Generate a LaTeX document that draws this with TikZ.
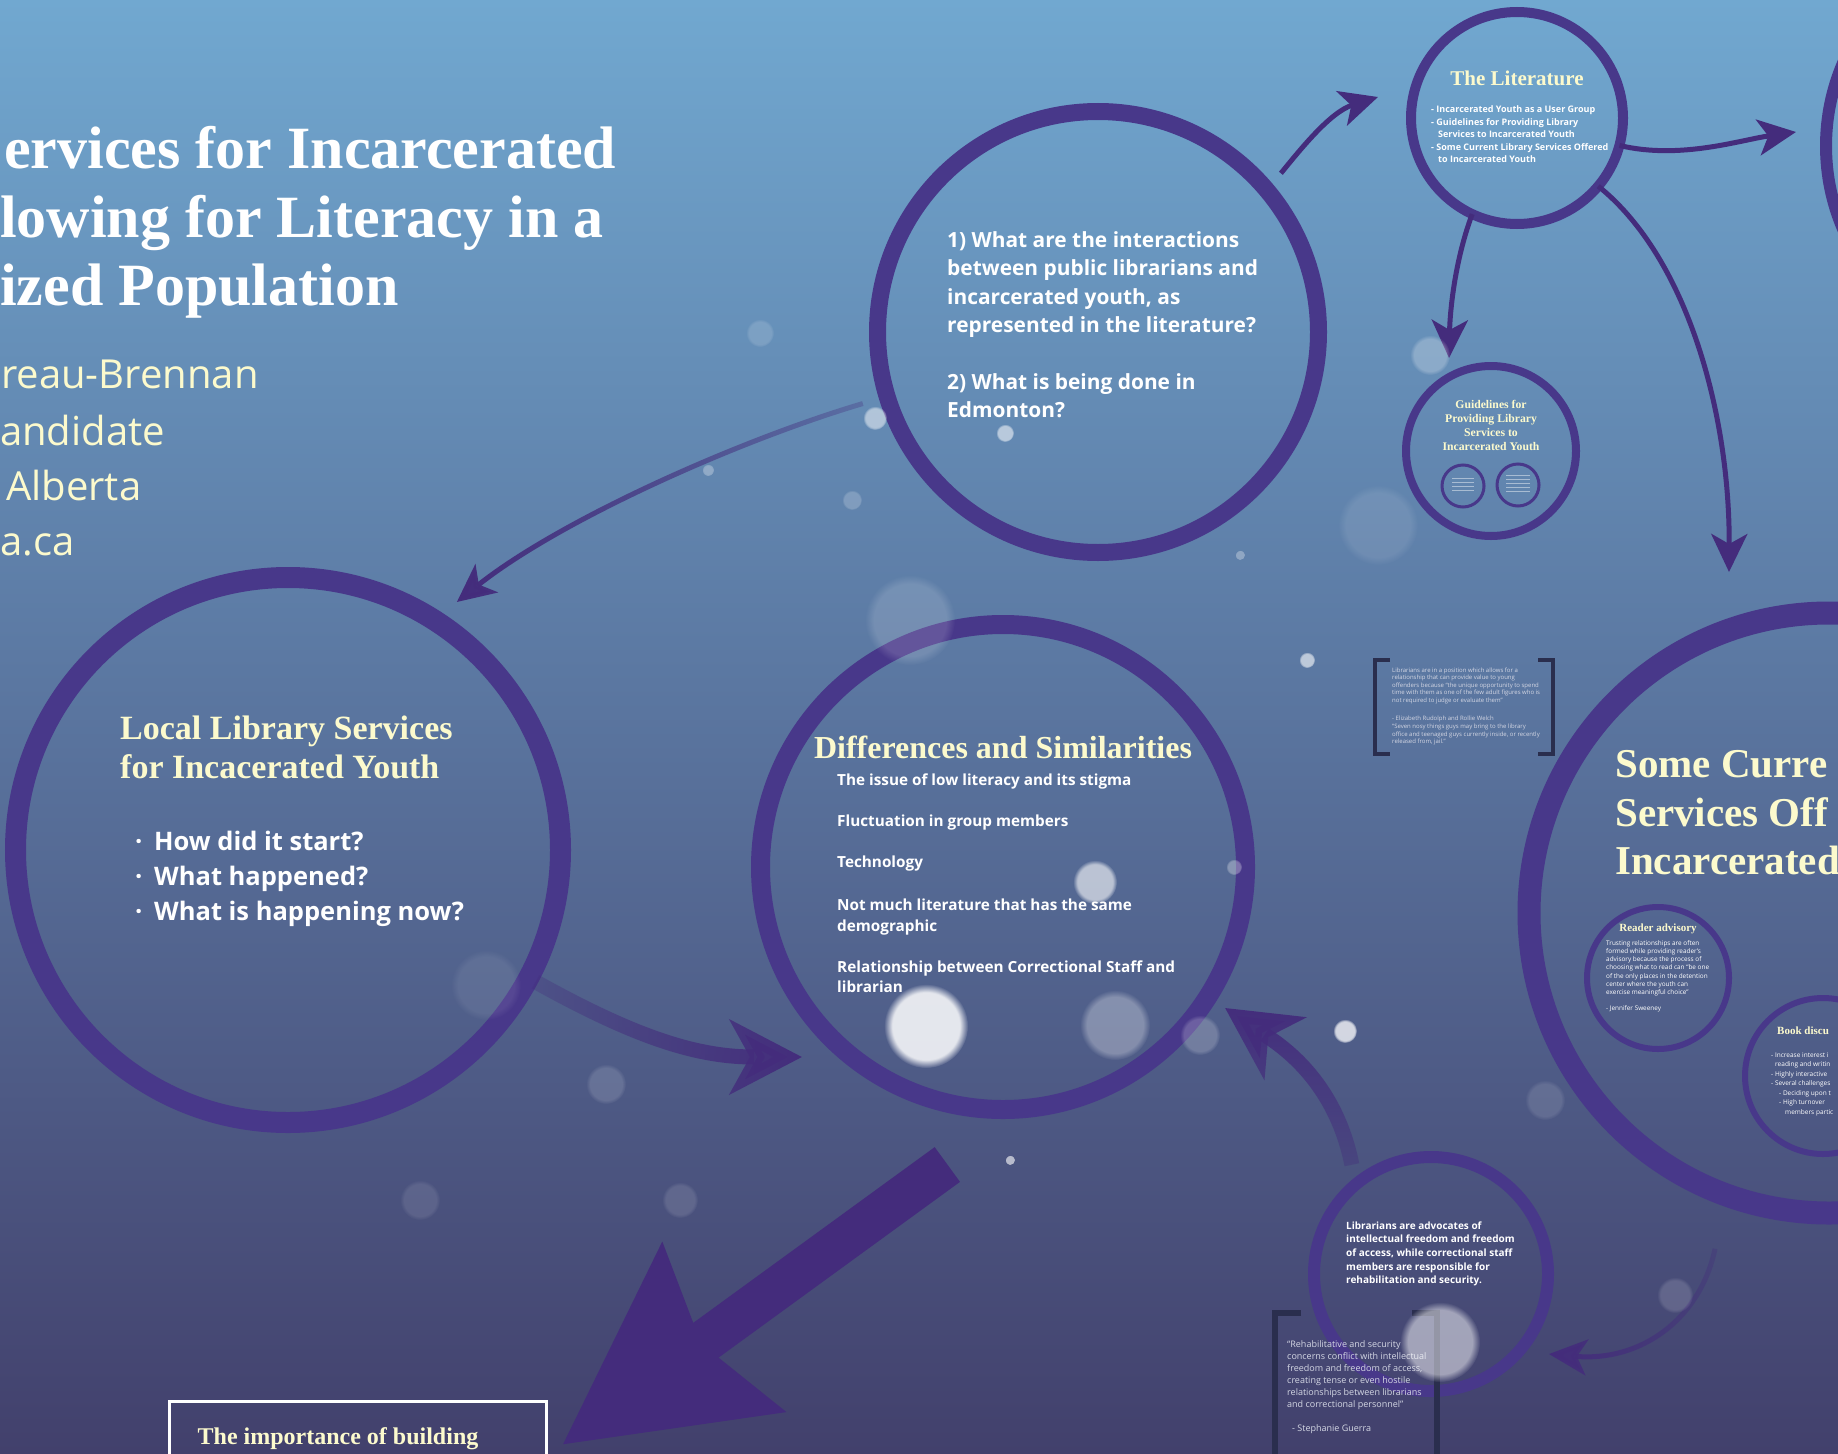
\documentclass[tikz,border=0pt]{standalone}
\usepackage{fontspec}
\setmainfont{Liberation Serif}
\newfontfamily\sansfont{Open Sans}
\usetikzlibrary{arrows.meta,fadings}

\definecolor{bgtop}{RGB}{113,168,208}
\definecolor{bgmid}{RGB}{92,122,172}
\definecolor{bgbot}{RGB}{66,64,108}
\definecolor{ringc}{RGB}{72,56,138}
\definecolor{arrowc}{RGB}{68,44,124}
\definecolor{cream}{RGB}{252,250,205}
\definecolor{quotec}{RGB}{212,215,228}
\definecolor{bracketc}{RGB}{42,46,78}

\tikzfading[name=tailE, left color=transparent!0, right color=transparent!75]
\tikzfading[name=tailW, left color=transparent!75, right color=transparent!0]
\tikzfading[name=tailS, top color=transparent!0, bottom color=transparent!75]

\tikzset{
  ring/.style={circle, draw=ringc, inner sep=0pt, outer sep=0pt},
  heading/.style={text=cream, font=\bfseries\fontsize{#1}{#1}\selectfont, inner sep=0pt},
  body/.style={text=white, font=\sansfont\bfseries\fontsize{#1}{#1}\selectfont, inner sep=0pt, anchor=base west},
  small/.style={text=quotec, font=\sansfont\fontsize{#1}{#1}\selectfont, inner sep=0pt, anchor=base west},
  link/.style={draw=arrowc, line width=5pt, -{Stealth[length=38pt, width=36pt, inset=10pt]}},
  swoosh/.style={draw=arrowc, line width=15pt, -{Stealth[length=72pt, width=74pt, inset=20pt]}},
  bigswoosh/.style={draw=arrowc, line width=43pt, -{Stealth[length=196pt, width=200pt, inset=24pt]}},
  bokeh/.style={fill=white, path fading=circle with fuzzy edge 20 percent}
}

\begin{document}
\begin{tikzpicture}[x=1pt, y=-1pt]
\useasboundingbox (0,0) rectangle (1838,1453);
\clip (0,0) rectangle (1838,1453);
\shade[top color=bgtop, middle color=bgmid, bottom color=bgbot] (0,0) rectangle (1838,1453);

% title and author
\node[heading=60, text=white, anchor=base west] (t1) at (4,168) {ervices for Incarcerated};
\node[heading=60, text=white, anchor=base west] (t2) at (0,237) {lowing for Literacy in a};
\node[heading=60, text=white, anchor=base west] (t3) at (0,305) {ized Population};
\node[small=40, text=cream, anchor=base west] (a1) at (1,388) {reau-Brennan};
\node[small=40, text=cream, anchor=base west] (a2) at (0,445) {andidate};
\node[small=40, text=cream, anchor=base west] (a3) at (6,500) {Alberta};
\node[small=40, text=cream, anchor=base west] (a4) at (0,555) {a.ca};

% circles
\node[ring, line width=17pt, minimum size=441pt] (q) at (1098,332) {};
\node[ring, line width=10pt, minimum size=212pt] (lit) at (1517,118) {};
\node[ring, line width=12pt, minimum size=420pt] (nxt) at (2036,146) {};
\node[ring, line width=8pt, minimum size=170pt] (guide) at (1491,451) {};
\node[ring, line width=3pt, minimum size=42pt] (g1) at (1463,486) {};
\node[ring, line width=3pt, minimum size=42pt] (g2) at (1518,485) {};
\node[ring, line width=21pt, minimum size=545pt] (local) at (288,850) {};
\node[ring, line width=19pt, minimum size=485pt] (diff) at (1003,867) {};
\node[ring, line width=23pt, minimum size=600pt] (cur) at (1829,913) {};
\node[ring, line width=6pt, minimum size=142pt] (read) at (1658,978) {};
\node[ring, line width=6pt, minimum size=156pt] (book) at (1823,1076) {};
\node[ring, line width=12pt, minimum size=234pt] (adv) at (1431,1274) {};

% arrow tips
\coordinate (aTip) at (457,602);
\coordinate (bTip) at (1378,97);
\coordinate (cTip) at (1796,132);
\coordinate (dTip) at (1449,358);
\coordinate (eTip) at (1729,572);
\coordinate (fTip) at (802,1057);
\coordinate (gTip) at (1225,1008);
\coordinate (hTip) at (1549,1354);
\coordinate (iTip) at (562,1445);

% arrows
\draw[link, path fading=tailE, shorten <=25pt] (q.197) .. controls (740,440) and (560,520) .. (aTip);
\draw[link, shorten <=22pt] (q.40) .. controls (1300,150) and (1330,112) .. (bTip);
\draw[link] (lit.-15) .. controls (1680,160) and (1740,140) .. (cTip);
\draw[link] (lit.245) .. controls (1455,260) and (1450,310) .. (dTip);
\draw[link] (lit.-40) .. controls (1690,260) and (1730,420) .. (eTip);
\draw[swoosh, path fading=tailW, shorten <=8pt] (local.-28) .. controls (640,1040) and (700,1057) .. (fTip);
\draw[swoosh, path fading=tailS, shorten <=20pt] (adv.130) .. controls (1335,1080) and (1280,1045) .. (gTip);
\draw[link, path fading=tailE, shorten <=55pt] (cur.250) .. controls (1700,1320) and (1640,1362) .. (hTip);
\draw[bigswoosh, shorten <=95pt] (diff.275) -- (iTip);

% brackets
\draw[bracketc, line width=6pt] (1301,1313) -- (1275,1313) -- (1275,1460);
\draw[bracketc, line width=6pt] (1412,1313) -- (1437,1313) -- (1437,1460);
\draw[bracketc, line width=3.5pt] (1390,660) -- (1375,660) -- (1375,754) -- (1390,754);
\draw[bracketc, line width=3.5pt] (1538,660) -- (1553,660) -- (1553,754) -- (1538,754);

% box at the bottom
\node[draw=white, line width=2.5pt, minimum width=377pt, minimum height=100pt, anchor=north west, inner sep=0pt] (imp) at (168,1400) {};
\node[heading=24, anchor=base] (impt) at (338,1444) {The importance of building};

% questions
\foreach \txt [count=\i from 0] in {1) What are the interactions, between public librarians and, {incarcerated youth, as}, represented in the literature?}
  \node[body=20.9] (ql\i) at (947,247+28.5*\i) {\txt};
\node[body=20.9] (ql4) at (947,389) {2) What is being done in};
\node[body=20.9] (ql5) at (947,417) {Edmonton?};

% the literature
\node[heading=21, anchor=base] (littitle) at (1517,86) {The Literature};
\node[body=9] (lit1) at (1431,113) {- Incarcerated Youth as a User Group};
\node[body=9] (lit2) at (1431,125.5) {- Guidelines for Providing Library};
\node[body=9] (lit3) at (1438,137.5) {Services to Incarcerated Youth};
\node[body=9] (lit4) at (1431,150) {- Some Current Library Services Offered};
\node[body=9] (lit5) at (1438,162) {to Incarcerated Youth};

% guidelines
\foreach \txt [count=\i from 0] in {Guidelines for, Providing Library, Services to, Incarcerated Youth}
  \node[heading=11.7, anchor=base] (gl\i) at (1491,408+14*\i) {\txt};
\foreach \k in {0,...,3}
  \draw[white, opacity=0.45, line width=0.8pt] (1452,478+4*\k) -- (1474,478+4*\k);
\foreach \k in {0,...,4}
  \draw[white, opacity=0.45, line width=0.8pt] (1506,475+4*\k) -- (1530,475+4*\k);

% local library services
\node[heading=34, anchor=base west] (lo1) at (120,739) {Local Library Services};
\node[heading=34, anchor=base west] (lo2) at (120,778) {for Incacerated Youth};
\foreach \txt [count=\i from 0] in {How did it start?, What happened?, What is happening now?}
  {\node[body=25.5] (lb\i) at (135,850+35*\i) {·};
   \node[body=25.5] (lt\i) at (154,850+35*\i) {\txt};}

% differences and similarities
\node[heading=32, anchor=base] (dtitle) at (1003,758) {Differences and Similarities};
\node[body=15.3] (d1) at (837,785) {The issue of low literacy and its stigma};
\node[body=15.3] (d2) at (837,826) {Fluctuation in group members};
\node[body=15.3] (d3) at (837,867) {Technology};
\node[body=15.3] (d4) at (837,910) {Not much literature that has the same};
\node[body=15.3] (d5) at (837,931) {demographic};
\node[body=15.3] (d6) at (837,972) {Relationship between Correctional Staff and};
\node[body=15.3] (d7) at (837,992) {librarian};

% some current services
\node[heading=41, anchor=base west] (c1) at (1615,777) {Some Curre};
\node[heading=41, anchor=base west] (c2) at (1615,826) {Services Off};
\node[heading=41, anchor=base west] (c3) at (1615,874) {Incarcerated};

% reader advisory
\node[heading=11, anchor=base] (rtitle) at (1658,931) {Reader advisory};
\foreach \txt [count=\i from 0] in {Trusting relationships are often, formed while providing reader’s, advisory because the process of, choosing what to read can “be one, of the only places in the detention, center where the youth can, exercise meaningful choice”}
  \node[small=6.4, text=white] (rl\i) at (1606,945+8.3*\i) {\txt};
\node[small=6.4, text=white] (rl7) at (1606,1010) {- Jennifer Sweeney};

% book discussion
\node[heading=11, anchor=base west] (btitle) at (1777,1034) {Book discu};
\node[small=6.5, text=white] (bl1) at (1771,1057) {- Increase interest i};
\node[small=6.5, text=white] (bl2) at (1775,1066.5) {reading and writin};
\node[small=6.5, text=white] (bl3) at (1771,1076) {- Highly interactive};
\node[small=6.5, text=white] (bl4) at (1771,1085.5) {- Several challenges};
\node[small=6.5, text=white] (bl5) at (1779,1095) {- Deciding upon t};
\node[small=6.5, text=white] (bl6) at (1779,1104.5) {- High turnover};
\node[small=6.5, text=white] (bl7) at (1785,1114) {members partic};

% advocates
\foreach \txt [count=\i from 0] in {Librarians are advocates of, intellectual freedom and freedom, {of access, while correctional staff}, members are responsible for, rehabilitation and security.}
  \node[body=10] (al\i) at (1346,1229+13.7*\i) {\txt};

% guerra quote
\foreach \txt [count=\i from 0] in {“Rehabilitative and security, concerns conflict with intellectual, {freedom and freedom of access,}, creating tense or even hostile, relationships between librarians, and correctional personnel”}
  \node[small=9] (gq\i) at (1287,1347+12*\i) {\txt};
\node[small=9] (gq6) at (1292,1431) {- Stephanie Guerra};

% bracket quote
\foreach \txt [count=\i from 0] in {Librarians are in a position which allows for a, relationship that can provide value to young, offenders because “the unique opportunity to spend, time with them as one of the few adult figures who is, not required to judge or evaluate them”}
  \node[small=6] (bq\i) at (1392,672+7.6*\i) {\txt};
\node[small=6] (bq5) at (1392,720) {- Elizabeth Rudolph and Rollie Welch};
\node[small=6] (bq6) at (1392,728) {“Seven nosy things guys may bring to the library};
\node[small=6] (bq7) at (1392,736) {{office and teenaged guys currently inside, or recently}};
\node[small=6] (bq8) at (1392,743.5) {{released from, jail.”}};

% snow
\fill[bokeh, opacity=0.85] (926,1026) circle (42pt);
\fill[bokeh, opacity=0.6] (1095,882) circle (22pt);
\fill[bokeh, opacity=0.3] (1115,1025) circle (35pt);
\fill[bokeh, opacity=0.2] (1200,1035) circle (20pt);
\fill[bokeh, opacity=0.15] (910,620) circle (45pt);
\fill[bokeh, opacity=0.25] (1430,355) circle (20pt);
\fill[bokeh, opacity=0.75] (1345,1031) circle (12pt);
\fill[bokeh, opacity=0.6] (1307,660) circle (8pt);
\fill[bokeh, opacity=0.5] (875,418) circle (12pt);
\fill[bokeh, opacity=0.55] (1005,433) circle (9pt);
\fill[bokeh, opacity=0.1] (1378,525) circle (40pt);
\fill[bokeh, opacity=0.08] (486,985) circle (35pt);
\fill[bokeh, opacity=0.14] (606,1084) circle (20pt);
\fill[bokeh, opacity=0.15] (1675,1295) circle (18pt);
\fill[bokeh, opacity=0.12] (1545,1100) circle (20pt);
\fill[bokeh, opacity=0.6] (1010,1160) circle (5pt);
\fill[bokeh, opacity=0.5] (1440,1342) circle (40pt);
\fill[bokeh, opacity=0.15] (760,333) circle (14pt);
\fill[bokeh, opacity=0.2] (852,500) circle (10pt);
\fill[bokeh, opacity=0.3] (1234,867) circle (8pt);
\fill[bokeh, opacity=0.3] (708,470) circle (6pt);
\fill[bokeh, opacity=0.12] (680,1200) circle (18pt);
\fill[bokeh, opacity=0.1] (420,1200) circle (20pt);
\fill[bokeh, opacity=0.3] (1240,555) circle (5pt);
\end{tikzpicture}
\end{document}
